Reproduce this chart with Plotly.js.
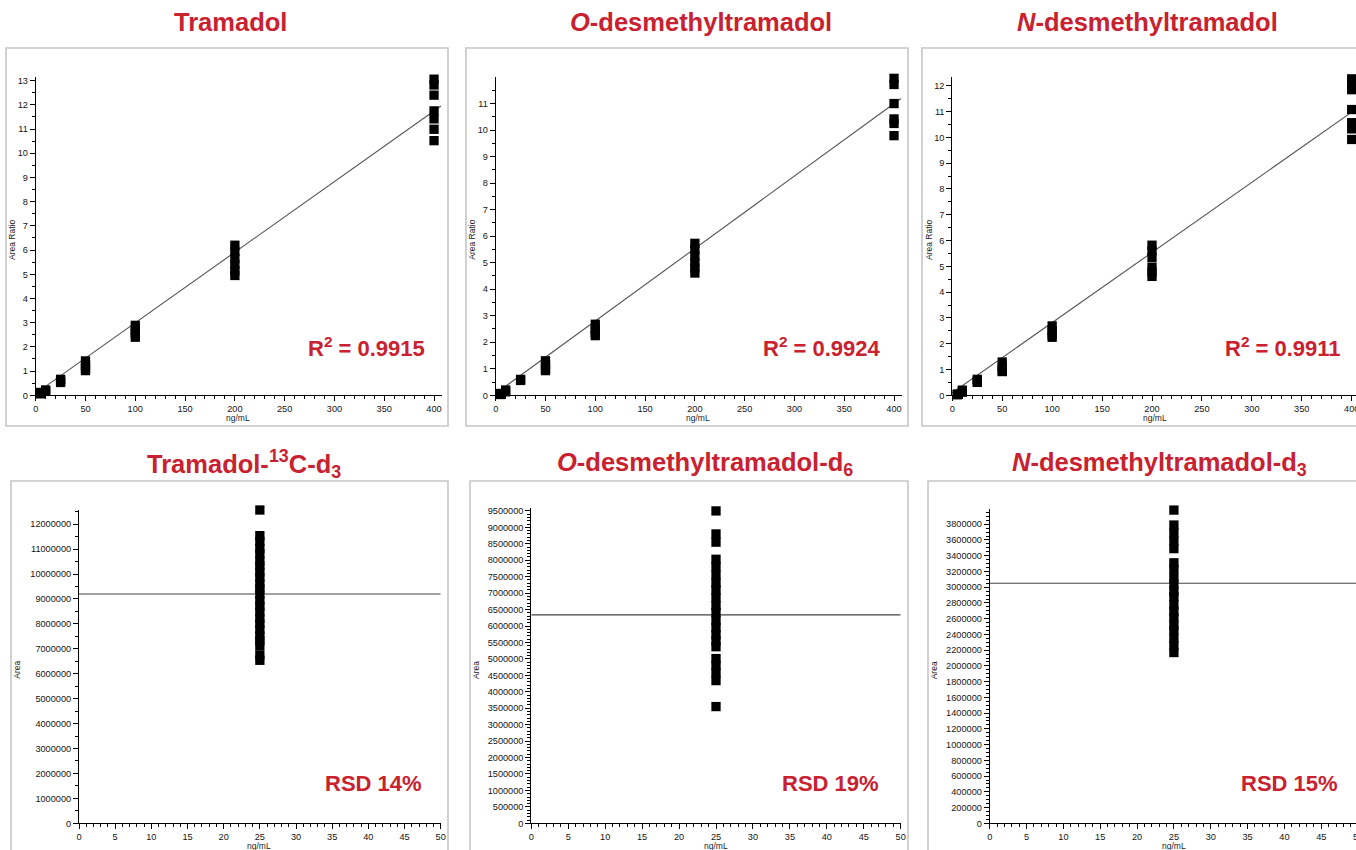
<!DOCTYPE html>
<html>
<head>
<meta charset="utf-8">
<script src="https://cdn.plot.ly/plotly-3.0.1.min.js"></script>
<style>html,body{margin:0;padding:0;background:#fff;overflow:hidden;width:1356px;height:850px;}#chart{width:1372px;height:850px;}</style>
</head>
<body>
<div id="chart"></div>
<script>
// ---------- DATA ----------
const calLevels = [5, 10, 25, 50, 100, 200, 400]; // ng/mL

// Area ratio replicates per calibration level (same order as calLevels)
const tramadolRatio = [
  [0.12, 0.06], [0.22, 0.16], [0.66, 0.58, 0.53], [1.42, 1.25, 1.1, 1.02],
  [2.89, 2.7, 2.55, 2.4], [6.2, 5.95, 5.65, 5.4, 5.15, 4.95],
  [13.06, 12.82, 12.40, 11.75, 11.42, 10.99, 10.52]
];
const odesmethylRatio = [
  [0.07, 0.03], [0.2, 0.13], [0.6, 0.56], [1.3, 1.15, 1.0, 0.93],
  [2.68, 2.5, 2.35, 2.25], [5.73, 5.5, 5.25, 5.0, 4.8, 4.61],
  [11.95, 11.72, 11.0, 10.42, 10.25, 9.79]
];
const ndesmethylRatio = [
  [0.05, 0.02], [0.2, 0.12], [0.62, 0.55, 0.5], [1.29, 1.1, 0.95, 0.92],
  [2.69, 2.5, 2.35, 2.25], [5.82, 5.6, 5.35, 4.97, 4.78, 4.61],
  [12.27, 12.05, 11.85, 11.08, 10.57, 10.33, 9.92]
];

// Linear fit lines: [value at x=0, value at x=407]
const fitX = [0, 407];
const tramadolFit = [0.08, 11.95];
const odesmethylFit = [0.07, 11.19];
const ndesmethylFit = [0.1, 11.17];

const r2Labels = ["R<sup>2</sup> = 0.9915", "R<sup>2</sup> = 0.9924", "R<sup>2</sup> = 0.9911"];

// Internal standard areas (all at 25 ng/mL)
const isConc = 25;
const tramadolISArea = [12570000, 11540000, 11310000, 11020000, 10810000, 10520000, 10330000, 10080000,
  9870000, 9610000, 9420000, 9190000, 8930000, 8710000, 8480000, 8220000, 8010000, 7770000,
  7520000, 7330000, 7140000, 6760000, 6540000];
const odesmethylISArea = [9500000, 8800000, 8550000, 8030000, 7800000, 7550000, 7310000, 7100000,
  6860000, 6620000, 6410000, 6170000, 5950000, 5740000, 5550000, 5370000, 5010000, 4800000,
  4580000, 4340000, 3550000];
const ndesmethylISArea = [3980000, 3790000, 3690000, 3590000, 3490000, 3310000, 3230000, 3120000,
  3040000, 2950000, 2880000, 2780000, 2690000, 2610000, 2520000, 2450000, 2350000, 2260000, 2170000];
const isMeans = [9200000, 6340000, 3050000];
const meanX = [0, 50];
const rsdLabels = ["RSD 14%", "RSD 19%", "RSD 15%"];

const topTitles = ["Tramadol", "<i>O</i>-desmethyltramadol", "<i>N</i>-desmethyltramadol"];
const bottomTitles = ["Tramadol-<sup>13</sup>C-d<sub>3</sub>", "<i>O</i>-desmethyltramadol-d<sub>6</sub>", "<i>N</i>-desmethyltramadol-d<sub>3</sub>"];

// ---------- LAYOUT HELPERS ----------
const W = 1372, H = 850;   // slightly wider than the window: right panels run off the edge as in the original
const px = v => v / W;
const py = v => 1 - v / H;
const RED = "#c9212f";
const FONT = "Liberation Sans, Arial, Helvetica, sans-serif";
const tickFont = {family: FONT, size: 9.2, color: "#151515"};

function flatten(levels, data) {
  const xs = [], ys = [];
  data.forEach((arr, i) => arr.forEach(v => { xs.push(levels[i]); ys.push(v); }));
  return {xs, ys};
}

const traces = [];
const markerStyle = {symbol: "square", size: 9.3, color: "#000", line: {width: 0}};

[[tramadolRatio, tramadolFit], [odesmethylRatio, odesmethylFit], [ndesmethylRatio, ndesmethylFit]].forEach((p, i) => {
  const ax = i === 0 ? "" : String(i + 1);
  traces.push({x: fitX, y: p[1], mode: "lines", line: {color: "#555", width: 1.1}, xaxis: "x" + ax, yaxis: "y" + ax, hoverinfo: "skip"});
  const f = flatten(calLevels, p[0]);
  traces.push({x: f.xs, y: f.ys, mode: "markers", marker: markerStyle, xaxis: "x" + ax, yaxis: "y" + ax, cliponaxis: false});
});
[tramadolISArea, odesmethylISArea, ndesmethylISArea].forEach((arr, i) => {
  const ax = String(i + 4);
  traces.push({x: meanX, y: [isMeans[i], isMeans[i]], mode: "lines", line: {color: "#444", width: 1.2}, xaxis: "x" + ax, yaxis: "y" + ax});
  traces.push({x: arr.map(() => isConc), y: arr, mode: "markers", marker: markerStyle, xaxis: "x" + ax, yaxis: "y" + ax, cliponaxis: false});
});

function axisBase(extra) {
  return Object.assign({
    showline: true, linecolor: "#000", linewidth: 1, ticks: "outside", ticklen: 5, tickwidth: 1,
    tickcolor: "#000", showgrid: false, zeroline: false, tickfont: tickFont, fixedrange: true
  }, extra);
}
const minorTop = d => ({dtick: d, ticks: "outside", ticklen: 3, tickcolor: "#000"});

const layout = {
  width: W, height: H, margin: {l: 0, r: 0, t: 0, b: 0}, showlegend: false,
  paper_bgcolor: "#fff", plot_bgcolor: "rgba(0,0,0,0)",
  // top row
  xaxis: axisBase({domain: [px(35.7), px(441.7)], range: [0, 407.7], dtick: 50, tick0: 0, anchor: "y", minor: minorTop(10)}),
  yaxis: axisBase({domain: [py(395.3), py(77)], range: [0, 13.15], dtick: 1, tick0: 0, anchor: "x", minor: minorTop(0.5)}),
  xaxis2: axisBase({domain: [px(495.7), px(901.7)], range: [0, 407.7], dtick: 50, tick0: 0, anchor: "y2", minor: minorTop(10)}),
  yaxis2: axisBase({domain: [py(395.3), py(77.3)], range: [0, 11.99], dtick: 1, tick0: 0, anchor: "x2", minor: minorTop(0.5)}),
  xaxis3: axisBase({domain: [px(952.3), px(1359.4)], range: [0, 407.7], dtick: 50, tick0: 0, anchor: "y3", minor: minorTop(10)}),
  yaxis3: axisBase({domain: [py(395.3), py(77.3)], range: [0, 12.33], dtick: 1, tick0: 0, anchor: "x3", minor: minorTop(0.5)}),
  // bottom row
  xaxis4: axisBase({domain: [px(79), px(440.7)], range: [0, 50], dtick: 5, tick0: 0, anchor: "y4", minor: minorTop(1)}),
  yaxis4: axisBase({domain: [py(823.3), py(510)], range: [0, 12570000], dtick: 1000000, tick0: 0, tickformat: "d", anchor: "x4", minor: minorTop(500000)}),
  xaxis5: axisBase({domain: [px(531.3), px(900.7)], range: [0, 50], dtick: 5, tick0: 0, anchor: "y5", minor: minorTop(1)}),
  yaxis5: axisBase({domain: [py(823.3), py(508.3)], range: [0, 9580000], dtick: 500000, tick0: 0, tickformat: "d", anchor: "x5", minor: minorTop(100000)}),
  xaxis6: axisBase({domain: [px(989.7), px(1358.1)], range: [0, 50], dtick: 5, tick0: 0, anchor: "y6", minor: minorTop(1)}),
  yaxis6: axisBase({domain: [py(823.3), py(509.3)], range: [0, 3990000], dtick: 200000, tick0: 0, tickformat: "d", anchor: "x6", minor: minorTop(50000)}),
  shapes: [],
  annotations: []
};

// panel frames
const frames = [[6, 48, 448, 426], [466, 48, 908, 426], [922, 48, 1370, 426],
                [11, 481, 448, 862], [470, 481, 908, 862], [928, 481, 1370, 862]];
frames.forEach(f => layout.shapes.push({type: "rect", xref: "paper", yref: "paper",
  x0: px(f[0]), x1: px(f[2]), y0: py(f[3]), y1: py(f[1]), line: {color: "#c6c6c6", width: 1.6}, layer: "below"}));

function ann(text, x, y, opts) {
  layout.annotations.push(Object.assign({text: text, xref: "paper", yref: "paper", x: px(x), y: py(y),
    showarrow: false, xanchor: "center", yanchor: "middle"}, opts));
}
const titleFont = {family: FONT, size: 25.5, color: RED, weight: "bold"};
const bigFont = {family: FONT, size: 22, color: RED, weight: "bold"};
const axFont = {family: FONT, size: 8.5, color: "#222"};

[230, 701, 1147].forEach((x, i) => ann(topTitles[i], x, 22, {font: titleFont}));
[243.5, 705, 1159].forEach((x, i) => ann(bottomTitles[i], x, 464, {font: titleFont}));
[427, 883.3, 1343].forEach((x, i) => ann(r2Labels[i], x, 347, {font: bigFont, xanchor: "right"}));
[424, 881, 1340].forEach((x, i) => ann(rsdLabels[i], x, 783, {font: bigFont, xanchor: "right"}));

[[12, 240], [471.7, 240], [929, 240]].forEach(p => ann("Area Ratio", p[0], p[1], {font: axFont, textangle: -90}));
[[238, 418], [697.7, 418], [1155, 418]].forEach(p => ann("ng/mL", p[0], p[1], {font: axFont}));
[[16.7, 670], [476, 670], [934.3, 670]].forEach(p => ann("Area", p[0], p[1], {font: axFont, textangle: -90}));
[[259.3, 846], [716, 846], [1174.3, 846]].forEach(p => ann("ng/mL", p[0], p[1], {font: axFont}));

Plotly.newPlot("chart", traces, layout, {staticPlot: true, displayModeBar: false});
</script>
</body>
</html>
